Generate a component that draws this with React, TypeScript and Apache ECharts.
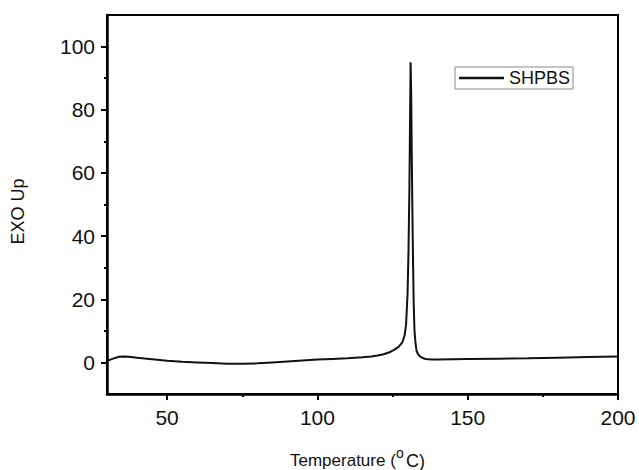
import React, { useEffect, useRef } from "react";
import * as echarts from "echarts";

const temperature = [
  30, 32, 34, 36, 38, 40, 45, 50, 55, 60, 65, 70, 75, 80, 85, 90, 95, 100, 105, 110,
  115, 118, 120, 122, 124, 125, 126, 127, 128, 128.5, 129, 129.5, 130, 130.3, 130.6,
  130.8, 131, 131.2, 131.4, 131.7, 132, 132.3, 132.6, 133, 133.5, 134, 135, 136, 137,
  138, 140, 145, 150, 160, 170, 180, 190, 200,
];
const exoUp = [
  0.5, 1.2, 1.8, 1.9, 1.7, 1.5, 1.0, 0.5, 0.2, 0.0, -0.2, -0.4, -0.4, -0.3, 0.0, 0.3,
  0.6, 0.9, 1.1, 1.3, 1.6, 1.9, 2.2, 2.6, 3.2, 3.7, 4.3, 4.9, 6.0, 7.0, 8.6, 12, 22,
  35, 55, 75, 95, 85, 65, 40, 20, 10, 6.5, 3.6, 2.6, 2.0, 1.4, 1.1, 1.0, 0.9, 0.9, 1.0,
  1.1, 1.2, 1.3, 1.5, 1.7, 1.9,
];
const xMajorTicks = [50, 100, 150, 200];
const xMinorTicks = [75, 125, 175];
const yMajorTicks = [0, 20, 40, 60, 80, 100];
const yMinorTicks = [10, 30, 50, 70, 90];
const seriesName = "SHPBS";
const yTitle = "EXO Up";
const xTitleParts = ["Temperature (", "o", "C)"];

const FONT = "'Liberation Sans', Arial, sans-serif";

export default function App() {
  const ref = useRef<HTMLDivElement>(null);
  useEffect(() => {
    if (!ref.current) return;
    const chart = echarts.init(ref.current, undefined, { renderer: "svg" });
    const data = temperature.map((t, i) => [t, exoUp[i]]);
    const axisColor = "#000";
    chart.setOption({
      animation: false,
      backgroundColor: "#fff",
      textStyle: { fontFamily: FONT },
      grid: {
        left: 107,
        top: 15,
        width: 511,
        height: 379,
        show: true,
        borderColor: "#000",
        borderWidth: 2,
        containLabel: false,
        outerBoundsMode: "none",
      },
      legend: {
        left: 455,
        top: 67,
        data: [seriesName],
        icon: "rect",
        itemWidth: 45,
        itemHeight: 2.5,
        itemGap: 4,
        padding: [2, 3, 2, 4],
        borderColor: "#888",
        borderWidth: 1,
        borderRadius: 0,
        textStyle: { fontSize: 18, color: "#111", fontFamily: FONT },
        itemStyle: { color: "#111" },
      },
      graphic: [
        {
          type: "group",
          left: 290,
          top: 446,
          children: [
            {
              type: "text",
              x: 0,
              y: 6,
              style: { text: xTitleParts[0], font: `17px ${FONT}`, fill: "#111" },
            },
            {
              type: "text",
              x: 106,
              y: 0,
              style: { text: xTitleParts[1], font: `14px ${FONT}`, fill: "#111" },
            },
            {
              type: "text",
              x: 116,
              y: 6,
              style: { text: xTitleParts[2], font: `18px ${FONT}`, fill: "#111" },
            },
          ],
        },
      ],
      xAxis: [
        {
          type: "value",
          min: 30,
          max: 200,
          position: "bottom",
          axisLine: { onZero: false, lineStyle: { color: axisColor, width: 2.5 } },
          axisTick: { customValues: xMajorTicks, length: 6, lineStyle: { color: axisColor, width: 2 } },
          axisLabel: { customValues: xMajorTicks, fontSize: 21, color: "#111", margin: 13, fontFamily: FONT },
          splitLine: { show: false },
        },
        {
          type: "value",
          min: 30,
          max: 200,
          position: "bottom",
          axisLine: { show: false, onZero: false },
          axisTick: { customValues: xMinorTicks, length: 3, lineStyle: { color: axisColor, width: 2 } },
          axisLabel: { show: false },
          splitLine: { show: false },
        },
      ],
      yAxis: [
        {
          type: "value",
          min: -10,
          max: 110,
          position: "left",
          name: yTitle,
          nameLocation: "middle",
          nameGap: 80,
          nameTextStyle: { fontSize: 18, color: "#111", fontFamily: FONT, padding: [0, 14, 0, 0] },
          axisLine: { onZero: false, lineStyle: { color: axisColor, width: 2.5 } },
          axisTick: { customValues: yMajorTicks, length: 6, lineStyle: { color: axisColor, width: 2 } },
          axisLabel: { customValues: yMajorTicks, fontSize: 21, color: "#111", margin: 12, fontFamily: FONT },
          splitLine: { show: false },
        },
        {
          type: "value",
          min: -10,
          max: 110,
          position: "left",
          axisLine: { show: false, onZero: false },
          axisTick: { customValues: yMinorTicks, length: 3, lineStyle: { color: axisColor, width: 2 } },
          axisLabel: { show: false },
          splitLine: { show: false },
        },
      ],
      series: [
        {
          name: seriesName,
          type: "line",
          xAxisIndex: 0,
          yAxisIndex: 0,
          data,
          showSymbol: false,
          symbol: "none",
          smooth: false,
          lineStyle: { color: "#111", width: 2 },
          itemStyle: { color: "#111" },
        },
      ],
    });
    return () => chart.dispose();
  }, []);
  return <div ref={ref} style={{ width: 639, height: 470, position: "absolute", left: 0, top: 0 }} />;
}
